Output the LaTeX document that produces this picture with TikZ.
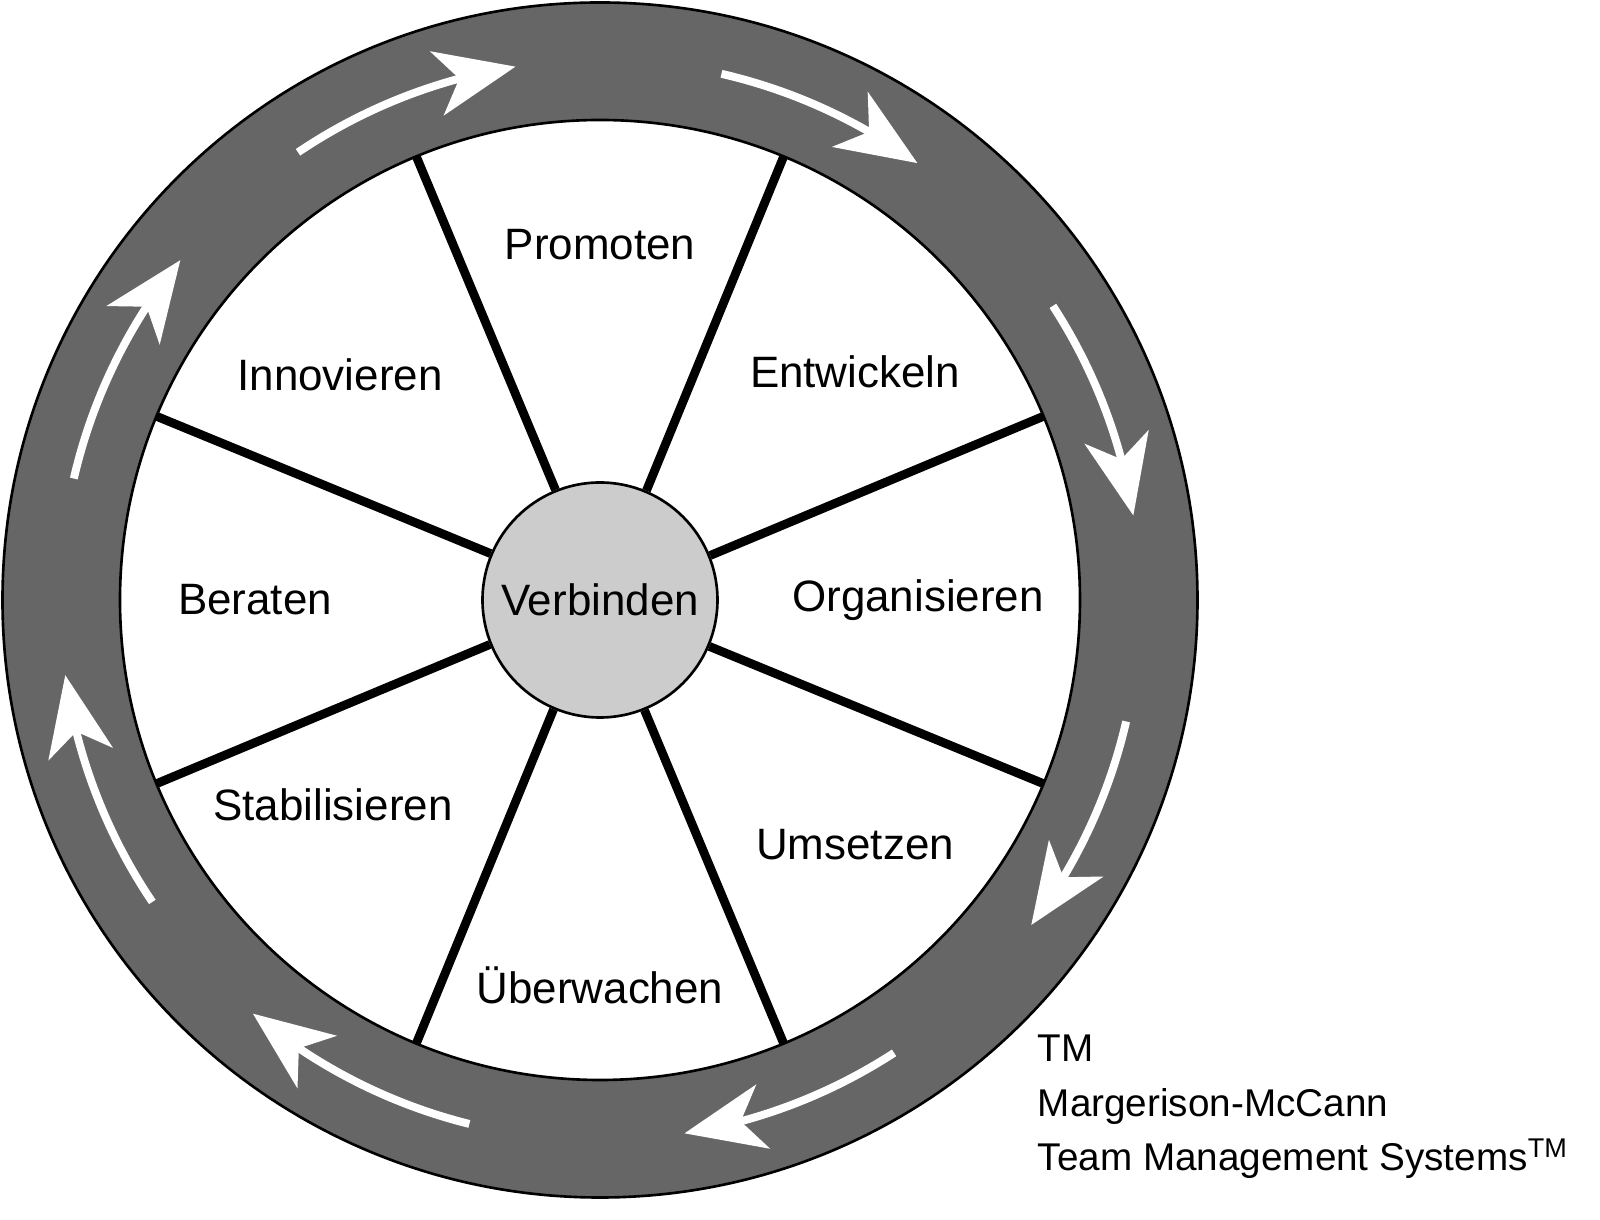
\documentclass[tikz,border=0pt]{standalone}
\usepackage{fontspec}
\setmainfont{Liberation Sans}
\usetikzlibrary{arrows.meta,bending}

\begin{document}
\begin{tikzpicture}[
	lbl/.style={font=\fontsize{25}{30}\selectfont},
	ringarrow/.style={white,line width=4.5pt,-{Stealth[length=1.6cm,width=1.3cm,inset=0.45cm,flex]}}]
	\useasboundingbox (-12,-12.4) rectangle (20,12);
	\node[shape=circle,draw=black,line width=1.5pt,fill=black!60,minimum size=23.9cm] (outer) at (0,0) {};
	\node[shape=circle,draw=black,line width=1.5pt,fill=white,minimum size=19.2cm] (inner) at (0,0) {};
	\foreach \i in {0,...,7}
		\coordinate (rim\i) at (22.5+45*\i:9.6);
	\node[shape=circle,draw=black,line width=1.5pt,fill=black!20,minimum size=4.7cm,lbl] (hub) at (0,0) {Verbinden};
	\foreach \i in {0,...,7}
		\path[-,line width=5pt] (hub.{22.5+45*\i}) edge (rim\i);
	% arrows in the ring
	\foreach \s/\e in {124/99,77/54,33/9,-13/-37,-57/-81,-104/-130,-146/-172,167/141}
		\draw[ringarrow] (\s:10.8) arc[start angle=\s,end angle=\e,radius=10.8];
	\node[lbl] (promoten)  at (0,7.1)      {Promoten};
	\node[lbl] (entwickeln) at (5.1,4.56)  {Entwickeln};
	\node[lbl] (organis)   at (6.36,0)     {Organisieren};
	\node[lbl] (umsetzen)  at (5.1,-4.9)   {Umsetzen};
	\node[lbl] (ueberw)    at (0,-7.7)     {Überwachen};
	\node[lbl] (stabil)    at (-5.34,-4.1) {Stabilisieren};
	\node[lbl] (beraten)   at (-6.9,0)     {Beraten};
	\node[lbl] (innov)     at (-5.2,4.5)   {Innovieren};
	\node[font=\fontsize{22}{27}\selectfont,anchor=north west,align=left,inner sep=0pt] (tm) at (8.75,-8.7)
		{TM\\[4pt]Margerison-McCann\\[4pt]Team Management Systems\textsuperscript{TM}};
\end{tikzpicture}
\end{document}
